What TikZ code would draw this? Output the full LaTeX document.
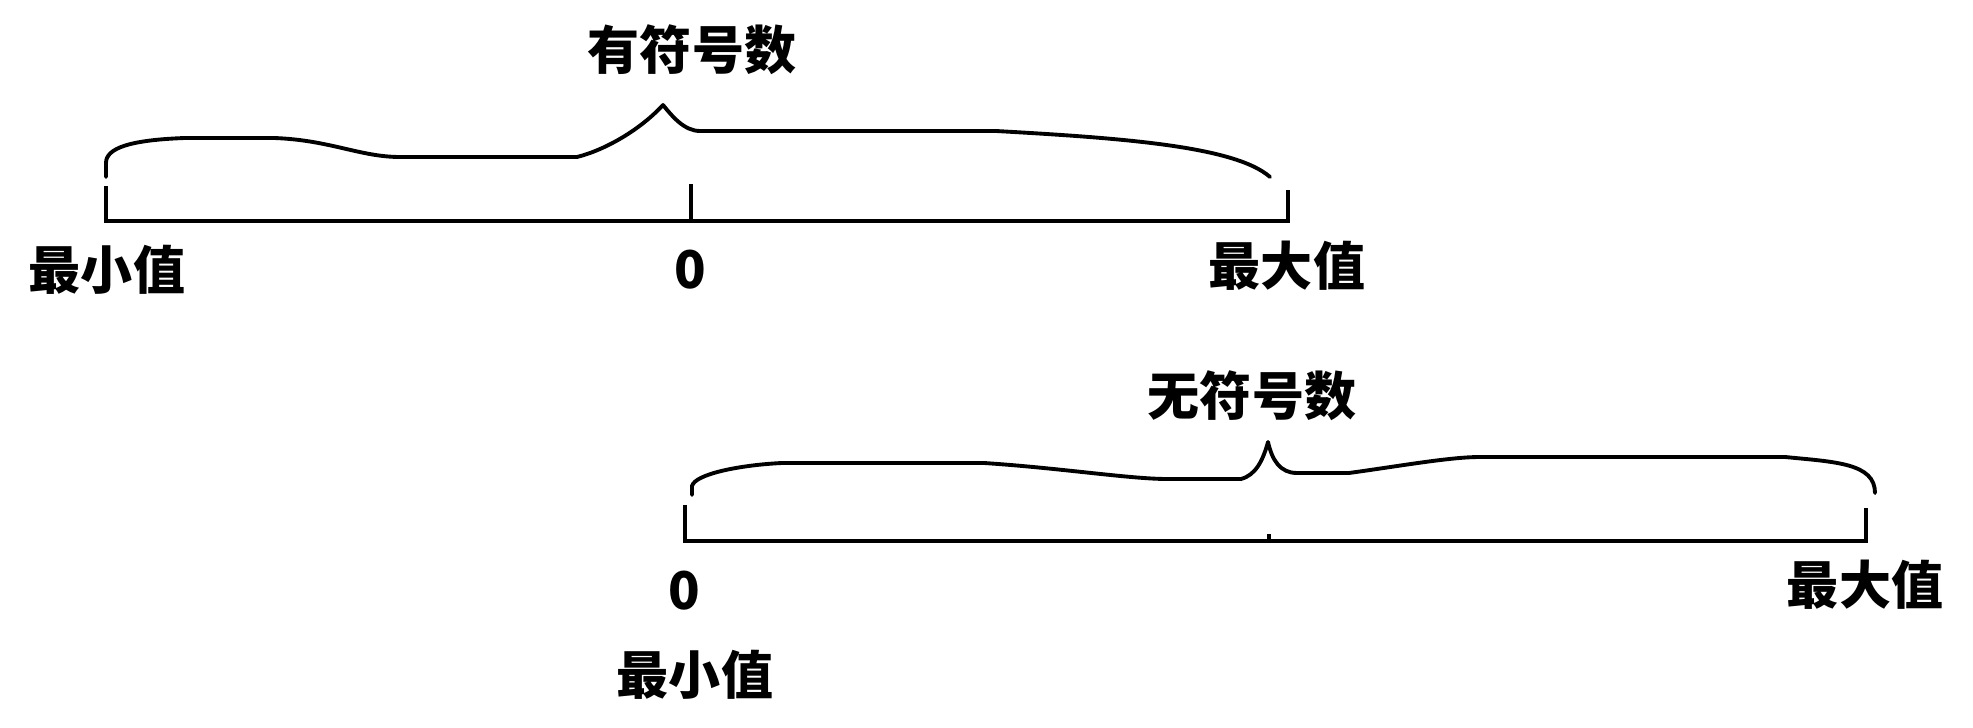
\documentclass[tikz,border=0pt]{standalone}
\usepackage{fontspec}
\newfontfamily\cjk{Noto Sans CJK SC}
\begin{document}
\begin{tikzpicture}[x=0.01cm,y=-0.01cm,
  lbl/.style={font=\cjk\bfseries\fontsize{14.8pt}{16pt}\selectfont, inner sep=0pt},
  axisline/.style={line width=1.2pt, line join=miter},
  bracepath/.style={line width=1.1pt, line join=round, line cap=round}]
\useasboundingbox (0,0) rectangle (1973,728);

% ---- top: signed ----
\coordinate (tA) at (106,186);
\coordinate (tB) at (106,221);
\coordinate (tZtop) at (691,184);
\coordinate (tZ) at (691,221);
\coordinate (tC) at (1288,221);
\coordinate (tD) at (1288,190);
\draw[axisline] (tA) -- (tB) -- (tZ) -- (tC) -- (tD);
\draw[axisline] (tZtop) -- (tZ);

\coordinate (tTip) at (663,105);
\draw[bracepath] (106,177) -- (106,163)
  .. controls (106,148) and (130,140) .. (185,138) -- (274,138)
  .. controls (330,140) and (360,157) .. (400,157) -- (577,157)
  .. controls (605,150) and (640,130) .. (tTip)
  .. controls (672,116) and (684,131) .. (700,131) -- (996,131)
  .. controls (1120,138) and (1235,146) .. (1270,177);

\node[lbl] (signed) at (692,50) {有符号数};
\node[lbl] (tmin) at (107,270) {最小值};
\node[lbl] (tzero) at (690,270) {0};
\node[lbl] (tmax) at (1287,266) {最大值};

% ---- bottom: unsigned ----
\coordinate (bA) at (685,505);
\coordinate (bB) at (685,541);
\coordinate (bM) at (1269,541);
\coordinate (bMtop) at (1269,534);
\coordinate (bC) at (1866,541);
\coordinate (bD) at (1866,508);
\draw[axisline] (bA) -- (bB) -- (bM) -- (bC) -- (bD);
\draw[axisline] (bMtop) -- (bM);

\coordinate (bTip) at (1268,442);
\draw[bracepath] (692,495) -- (692,486)
  .. controls (695,474) and (740,465) .. (782,463) -- (984,463)
  .. controls (1060,468) and (1130,479) .. (1167,479) -- (1241,479)
  .. controls (1256,475) and (1263,460) .. (bTip)
  .. controls (1272,460) and (1280,473) .. (1297,473) -- (1349,473)
  .. controls (1400,466) and (1450,457) .. (1480,457) -- (1785,457)
  .. controls (1835,462) and (1875,463) .. (1875,493);

\node[lbl] (unsigned) at (1252,396) {无符号数};
\node[lbl] (bzero) at (684,591) {0};
\node[lbl] (bmin) at (695,675) {最小值};
\node[lbl] (bmax) at (1865,585) {最大值};
\end{tikzpicture}
\end{document}
